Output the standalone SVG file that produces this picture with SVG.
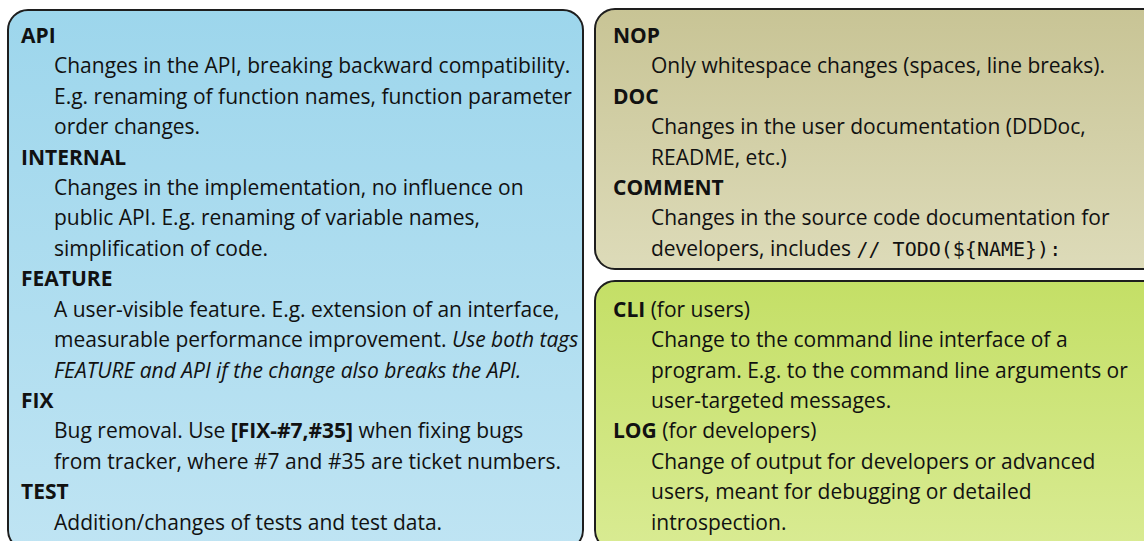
<svg xmlns="http://www.w3.org/2000/svg" width="1144" height="541" viewBox="0 0 1144 541">
<defs>
<linearGradient id="gBlue" x1="0" y1="0" x2="0" y2="1"><stop offset="0" stop-color="#9dd6ec"/><stop offset="1" stop-color="#bfe4f3"/></linearGradient>
<linearGradient id="gOlive" x1="0" y1="0" x2="0" y2="1"><stop offset="0" stop-color="#c8c495"/><stop offset="1" stop-color="#dddbb9"/></linearGradient>
<linearGradient id="gGreen" x1="0" y1="0" x2="0" y2="1"><stop offset="0" stop-color="#c4df66"/><stop offset="1" stop-color="#d9eb93"/></linearGradient>
<style>
.box{stroke:#1e1e1e;stroke-width:2}
text{font-family:"Open Sans","Noto Sans","DejaVu Sans",sans-serif;font-size:21px;fill:#111}
.h{font-weight:bold}
.b{font-weight:bold}
.i{font-style:italic}
.m{font-family:"DejaVu Sans Mono","Liberation Mono",monospace;font-size:20px}
</style>
</defs>
<rect width="1144" height="541" fill="#ffffff"/>
<g id="box-code">
<rect class="box" x="8" y="10" width="575" height="540" rx="20" fill="url(#gBlue)"/>
<text class="h" x="21" y="42.5">API</text>
<text x="54" y="73">Changes in the API, breaking backward compatibility.</text>
<text x="54" y="103.5">E.g. renaming of function names, function parameter</text>
<text x="54" y="134">order changes.</text>
<text class="h" x="21" y="164.5">INTERNAL</text>
<text x="54" y="194.5">Changes in the implementation, no influence on</text>
<text x="54" y="225">public API. E.g. renaming of variable names,</text>
<text x="54" y="255.5">simplification of code.</text>
<text class="h" x="21" y="286">FEATURE</text>
<text x="54" y="316.5">A user-visible feature. E.g. extension of an interface,</text>
<text x="54" y="347">measurable performance improvement. <tspan class="i">Use both tags</tspan></text>
<text class="i" x="54" y="377.5">FEATURE and API if the change also breaks the API.</text>
<text class="h" x="21" y="407.5">FIX</text>
<text x="54" y="438">Bug removal. Use <tspan class="b">[FIX-#7,#35]</tspan> when fixing bugs</text>
<text x="54" y="468.5">from tracker, where #7 and #35 are ticket numbers.</text>
<text class="h" x="21" y="499">TEST</text>
<text x="54" y="529.5">Addition/changes of tests and test data.</text>
</g>
<g id="box-docs">
<rect class="box" x="595" y="9" width="570" height="260" rx="20" fill="url(#gOlive)"/>
<text class="h" x="613" y="42.5">NOP</text>
<text x="651" y="73">Only whitespace changes (spaces, line breaks).</text>
<text class="h" x="613" y="103.5">DOC</text>
<text x="651" y="134">Changes in the user documentation (DDDoc,</text>
<text x="651" y="164.5">README, etc.)</text>
<text class="h" x="613" y="194.5">COMMENT</text>
<text x="651" y="225">Changes in the source code documentation for</text>
<text x="651" y="255.5">developers, includes <tspan class="m">// TODO(${NAME}):</tspan></text>
</g>
<g id="box-output">
<rect class="box" x="595" y="281" width="570" height="269" rx="20" fill="url(#gGreen)"/>
<text x="613" y="316.5"><tspan class="b">CLI</tspan> (for users)</text>
<text x="651" y="347">Change to the command line interface of a</text>
<text x="651" y="377.5">program. E.g. to the command line arguments or</text>
<text x="651" y="407.5">user-targeted messages.</text>
<text x="613" y="438"><tspan class="b">LOG</tspan> (for developers)</text>
<text x="651" y="468.5">Change of output for developers or advanced</text>
<text x="651" y="499">users, meant for debugging or detailed</text>
<text x="651" y="529.5">introspection.</text>
</g>
<g id="connectors"/>
</svg>
